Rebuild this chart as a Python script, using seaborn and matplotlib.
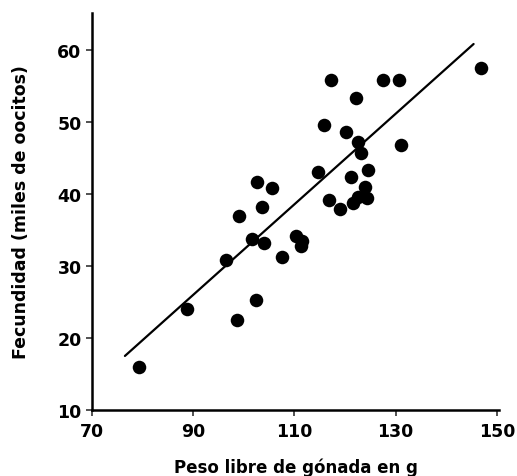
import numpy as np
import pandas as pd
import matplotlib
matplotlib.use("Agg")
import matplotlib.pyplot as plt
import seaborn as sns

# datos
peso = [79.2, 88.7, 98.7, 102.4, 96.5, 99.0, 103.6, 101.6, 103.9, 107.6,
        110.4, 111.5, 111.2, 102.6, 105.6, 117.3, 127.4, 130.7, 146.8, 122.2,
        115.9, 120.1, 122.5, 123.2, 131.0, 114.7, 124.5, 121.1, 123.9, 116.8,
        119.0, 121.6, 122.5, 124.3]
fecundidad = [15.9, 24.0, 22.5, 25.3, 30.8, 36.9, 38.2, 33.75, 33.2, 31.3,
              34.1, 33.5, 32.7, 41.6, 40.8, 55.8, 55.8, 55.8, 57.5, 53.3,
              49.6, 48.6, 47.2, 45.7, 46.8, 43.1, 43.3, 42.3, 41.0, 39.1,
              37.9, 38.7, 39.5, 39.4]

# recta de ajuste (extremos leidos)
fit_x = [76.5, 145.4]
fit_y = [17.5, 60.8]

x_ticks = [70, 90, 110, 130, 150]
y_ticks = [10, 20, 30, 40, 50, 60]

sns.set_theme(style="ticks")
plt.rcParams['font.family'] = ['DejaVu Sans']
plt.rcParams['text.color'] = 'black'
plt.rcParams['axes.labelcolor'] = 'black'
plt.rcParams['xtick.color'] = 'black'
plt.rcParams['ytick.color'] = 'black'

df = pd.DataFrame({'peso': peso, 'fec': fecundidad})
df_fit = pd.DataFrame({'x': fit_x, 'y': fit_y})

fig = plt.figure(figsize=(5.17, 4.77), dpi=100)
ax = fig.add_axes([0.178, 0.1384, 0.787, 0.8322])

sns.lineplot(data=df_fit, x='x', y='y', color='black', linewidth=1.6, ax=ax)
sns.scatterplot(data=df, x='peso', y='fec', color='black', s=95,
                edgecolor='black', linewidth=0, ax=ax, zorder=3)

ax.set_xlim(70, 150.4)
ax.set_ylim(10, 65.1)
ax.set_xticks(x_ticks)
ax.set_yticks(y_ticks)
ax.tick_params(axis='both', labelsize=12.5, width=1.2, length=4,
               color='#333333', labelcolor='black')
ax.tick_params(axis='x', pad=5)
for lab in ax.get_xticklabels() + ax.get_yticklabels():
    lab.set_fontweight('bold')

for s in ['left', 'bottom']:
    ax.spines[s].set_linewidth(1.8)
    ax.spines[s].set_color('black')
sns.despine(ax=ax)

ax.set_xlabel("Peso libre de gónada en g", fontsize=12, fontweight='bold', labelpad=12)
ax.set_ylabel("Fecundidad (miles de oocitos)", fontsize=12.5, fontweight='bold', labelpad=20)

fig.savefig("out.png", dpi=100)
plt.close(fig)
